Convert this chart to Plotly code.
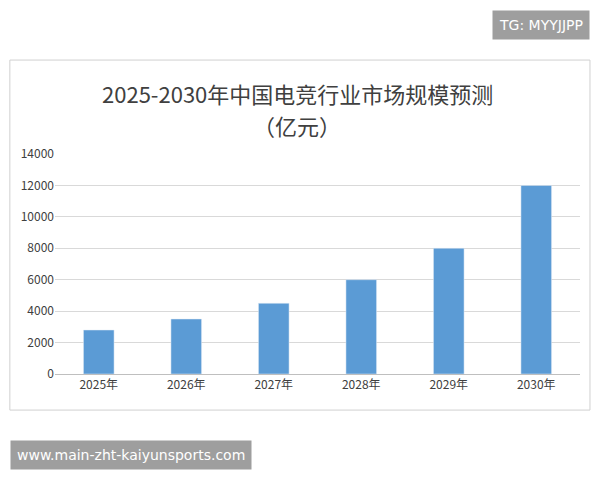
import plotly.graph_objects as go

years = ["2025年", "2026年", "2027年", "2028年", "2029年", "2030年"]
market_size = [2800, 3500, 4500, 6000, 8000, 12000]

fig = go.Figure()
fig.add_trace(go.Bar(x=years, y=market_size, marker_color="#5b9bd5", width=0.35))

fig.update_layout(
    width=600, height=480,
    paper_bgcolor="white", plot_bgcolor="white",
    margin=dict(l=47, r=28, t=146, b=114),
    font=dict(family="Noto Sans CJK SC", size=12, color="#404040"),
    showlegend=False,
    xaxis=dict(showline=True, linecolor="#bfbfbf", ticks="", tickfont=dict(size=12), automargin=False),
    yaxis=dict(range=[0, 14000], dtick=2000, gridcolor="#d9d9d9", zeroline=False,
               tickformat="d", ticks="", tickfont=dict(size=12), automargin=False),
    shapes=[dict(type="rect", xref="paper", yref="paper", x0=-0.086, x1=1.019, y0=-0.164, y1=1.427,
                 line=dict(color="#d0d0d0", width=1))],
    annotations=[
        dict(text="2025-2030年中国电竞行业市场规模预测", xref="paper", yref="paper", x=0.461, y=1.277,
             yanchor="middle", showarrow=False, font=dict(size=22, color="#404040")),
        dict(text="（亿元）", xref="paper", yref="paper", x=0.461, y=1.132,
             yanchor="middle", showarrow=False, font=dict(size=22, color="#404040")),
        dict(text="TG: MYYJJPP", xref="paper", yref="paper", x=1.019, y=1.586, xanchor="right",
             yanchor="middle", showarrow=False, bgcolor="#9e9e9e", borderpad=6,
             font=dict(family="DejaVu Sans", size=14, color="white")),
        dict(text="www.main-zht-kaiyunsports.com", xref="paper", yref="paper", x=-0.086, y=-0.368,
             xanchor="left", yanchor="middle", showarrow=False, bgcolor="#9e9e9e", borderpad=6,
             font=dict(family="DejaVu Sans", size=14, color="white")),
    ],
)

fig.write_html("out.html")
